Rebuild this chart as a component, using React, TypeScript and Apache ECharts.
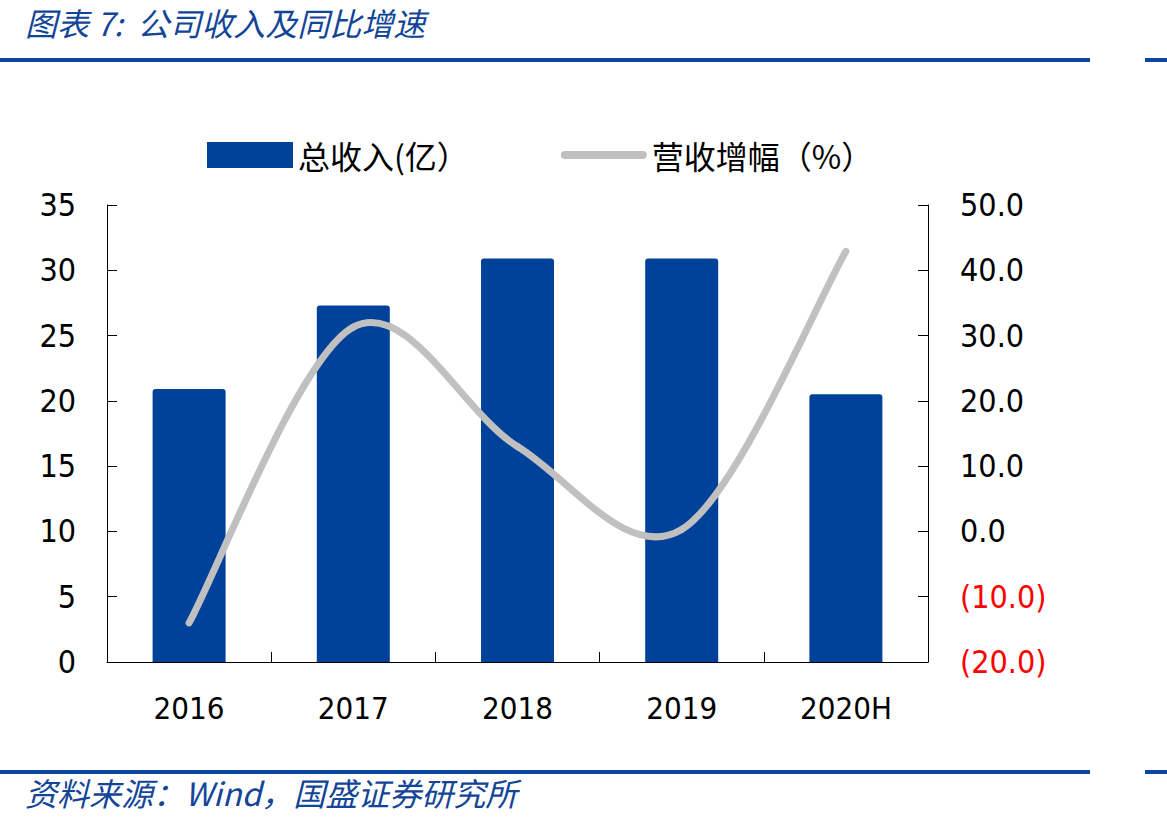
import React, { useEffect, useRef } from "react";
import * as echarts from "echarts";

const categories = ["2016", "2017", "2018", "2019", "2020H"];
const revenue = [20.9, 27.3, 30.9, 30.9, 20.5];
const growth = [-14.0, 31.3, 13.0, 0.3, 42.9];
const leftTicks = { min: 0, max: 35, interval: 5 };
const rightTicks = { min: -20, max: 50, interval: 10 };
const titleText = "图表 7:  公司收入及同比增速";
const sourceText = "资料来源：Wind，国盛证券研究所";
const barName = "总收入(亿）";
const lineName = "营收增幅（%）";

const BLUE = "#00419A";
const LINEBLUE = "#0B47A0";
const GREY = "#C0C0C0";
const NUMFONT = "'DejaVu Sans Condensed', 'DejaVu Sans', sans-serif";
const CJK = "'Noto Sans CJK SC', sans-serif";

export default function App() {
  const ref = useRef<HTMLDivElement>(null);
  useEffect(() => {
    if (!ref.current) return;
    const chart = echarts.init(ref.current, undefined, { renderer: "svg" });
    const n = growth.length;
    const renderSegment = (params: any, api: any) => {
      const i = params.dataIndex;
      if (i >= n - 1) return null;
      const pt = (j: number) => {
        const k = Math.max(0, Math.min(n - 1, j));
        return api.coord([k, growth[k]]);
      };
      const p0 = pt(i - 1), p1 = pt(i), p2 = pt(i + 1), p3 = pt(i + 2);
      return {
        type: "bezierCurve",
        shape: {
          x1: p1[0], y1: p1[1],
          cpx1: p1[0] + (p2[0] - p0[0]) / 6, cpy1: p1[1] + (p2[1] - p0[1]) / 6,
          cpx2: p2[0] - (p3[0] - p1[0]) / 6, cpy2: p2[1] - (p3[1] - p1[1]) / 6,
          x2: p2[0], y2: p2[1],
        },
        style: { stroke: GREY, lineWidth: 7, lineCap: "round", fill: "none" },
      };
    };
    chart.setOption({
      animation: false,
      backgroundColor: "#ffffff",
      graphic: [
        { type: "rect", shape: { x: 0, y: 58, width: 1090, height: 4 }, style: { fill: LINEBLUE } },
        { type: "rect", shape: { x: 1145, y: 58, width: 22, height: 4 }, style: { fill: LINEBLUE } },
        { type: "rect", shape: { x: 0, y: 770, width: 1090, height: 4 }, style: { fill: LINEBLUE } },
        { type: "rect", shape: { x: 1145, y: 770, width: 22, height: 4 }, style: { fill: LINEBLUE } },
        {
          type: "text", left: 25, top: 6,
          style: { text: titleText, fill: "#124598", font: `italic 32px ${CJK}` },
        },
        {
          type: "text", left: 25, top: 776,
          style: { text: sourceText, fill: "#124598", font: `italic 32px ${CJK}` },
        },
      ],
      legend: {
        left: 207, top: 139, padding: 0,
        itemWidth: 86, itemHeight: 26, itemGap: 92,
        textStyle: { fontSize: 32, fontFamily: CJK, color: "#000" },
        data: [
          { name: barName, icon: "rect" },
          { name: lineName, icon: "path://M4,0 H80 A4,4 0 0 1 80,8 H4 A4,4 0 0 1 4,0 Z" },
        ],
      },
      grid: { left: 107, right: 239, top: 205, bottom: 162, containLabel: false },
      xAxis: {
        type: "category",
        data: categories,
        axisLine: { lineStyle: { color: "#000", width: 1 } },
        axisTick: { show: true, inside: true, length: 10, lineStyle: { color: "#000" } },
        axisLabel: { color: "#000", fontSize: 31, fontFamily: NUMFONT, margin: 30 },
      },
      yAxis: [
        {
          type: "value", position: "left", ...leftTicks,
          splitLine: { show: false },
          axisLine: { show: true, lineStyle: { color: "#000", width: 1 } },
          axisTick: { show: true, inside: true, length: 10, lineStyle: { color: "#000" } },
          axisLabel: { color: "#000", fontSize: 32, fontFamily: NUMFONT, margin: 31 },
        },
        {
          type: "value", position: "right", ...rightTicks,
          splitLine: { show: false },
          axisLine: { show: true, lineStyle: { color: "#000", width: 1 } },
          axisTick: { show: true, inside: true, length: 10, lineStyle: { color: "#000" } },
          axisLabel: {
            color: "#000", fontSize: 32, fontFamily: NUMFONT, margin: 32,
            formatter: (v: number) =>
              v < 0 ? `{neg|(${Math.abs(v).toFixed(1)})}` : v.toFixed(1),
            rich: { neg: { color: "#FF0000", fontSize: 32, fontFamily: NUMFONT } },
          },
        },
      ],
      series: [
        {
          name: barName, type: "bar", yAxisIndex: 0, data: revenue,
          barWidth: 73,
          itemStyle: { color: BLUE, borderRadius: [3, 3, 0, 0] },
        },
        {
          name: lineName, type: "custom", xAxisIndex: 0, yAxisIndex: 1,
          data: growth.map((v, i) => [i, v]),
          encode: { x: 0, y: 1 },
          itemStyle: { color: GREY },
          renderItem: renderSegment,
          z: 3,
        },
      ],
    });
    return () => chart.dispose();
  }, []);
  return (
    <div
      ref={ref}
      style={{ position: "absolute", left: 0, top: 0, width: 1167, height: 824, background: "#fff" }}
    />
  );
}
